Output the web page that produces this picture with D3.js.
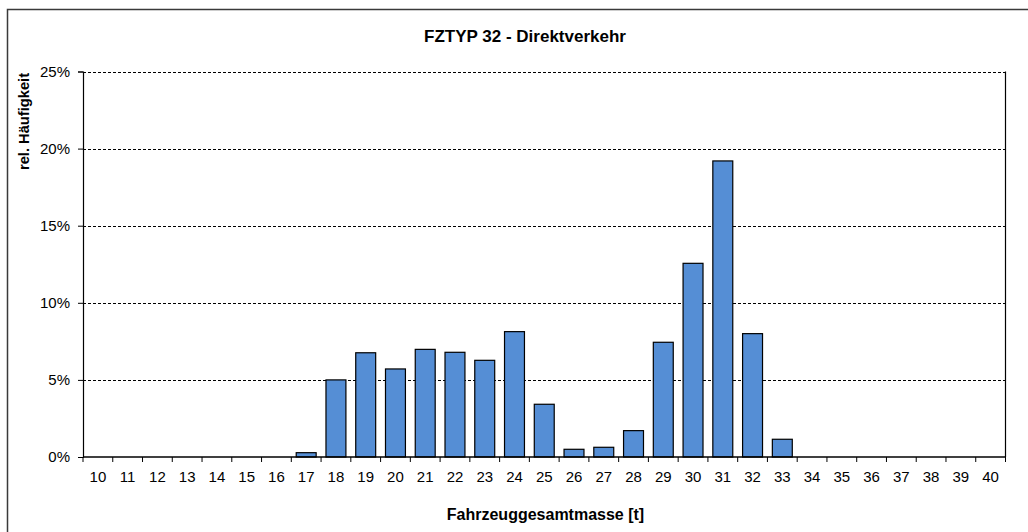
<!DOCTYPE html>
<html>
<head>
<meta charset="utf-8">
<script src="https://cdn.jsdelivr.net/npm/d3@7"></script>
<style>
  html, body { margin: 0; padding: 0; background: #fff; }
  svg { display: block; font-family: "Liberation Sans", Arial, sans-serif; }
</style>
</head>
<body>
<svg id="chart" width="1028" height="532"></svg>
<script>
// Vehicle gross mass classes [t]
const categories = [10,11,12,13,14,15,16,17,18,19,20,21,22,23,24,25,26,27,28,29,30,31,32,33,34,35,36,37,38,39,40];
// Relative frequency per class [%]
const frequency = [0,0,0,0,0,0,0,0.28,5.0,6.76,5.71,6.98,6.79,6.27,8.13,3.42,0.5,0.63,1.71,7.44,12.56,19.2,8.0,1.15,0,0,0,0,0,0,0];
const yTicks = [0,5,10,15,20,25];

const title = "FZTYP 32 - Direktverkehr";
const xTitle = "Fahrzeuggesamtmasse [t]";
const yTitle = "rel. Häufigkeit";

const svg = d3.select("#chart");
const plot = { left: 83, right: 1005.5, top: 71.5, bottom: 457 };
const font = "Liberation Sans, Arial, sans-serif";

// outer chart frame
svg.append("rect")
  .attr("x", 7.5).attr("y", 9.5)
  .attr("width", 1040).attr("height", 540)
  .attr("fill", "#fff").attr("stroke", "#3a3a3a").attr("stroke-width", 1.5);

const x = d3.scaleBand()
  .domain(categories)
  .range([plot.left, plot.right])
  .paddingInner(0.33).paddingOuter(0.165);

const xEdges = d3.scaleLinear()
  .domain([0, categories.length])
  .range([plot.left, plot.right]);

const y = d3.scaleLinear().domain([0, 25]).range([plot.bottom, plot.top]);

// dashed gridlines
svg.append("g")
  .selectAll("line")
  .data(yTicks.filter(t => t > 0))
  .join("line")
  .attr("x1", plot.left).attr("x2", plot.right)
  .attr("y1", d => Math.round(y(d)) + 0.5).attr("y2", d => Math.round(y(d)) + 0.5)
  .attr("stroke", "#000").attr("stroke-width", 1)
  .attr("stroke-dasharray", "3,2");

// right border of plot area
svg.append("line")
  .attr("x1", plot.right).attr("x2", plot.right)
  .attr("y1", plot.top).attr("y2", plot.bottom)
  .attr("stroke", "#000").attr("stroke-width", 1.2);

// bars
svg.append("g")
  .selectAll("rect")
  .data(categories.map((c, i) => ({ c, v: frequency[i] })).filter(d => d.v > 0))
  .join("rect")
  .attr("x", d => x(d.c))
  .attr("y", d => y(d.v))
  .attr("width", x.bandwidth())
  .attr("height", d => y(0) - y(d.v))
  .attr("fill", "#558ed5")
  .attr("stroke", "#000")
  .attr("stroke-width", 1.2);

// y axis
const yAxis = d3.axisLeft(y)
  .tickValues(yTicks)
  .tickFormat(d => d + "%")
  .tickSize(5)
  .tickPadding(8);
const gy = svg.append("g")
  .attr("transform", `translate(${plot.left},0)`)
  .call(yAxis);
gy.select(".domain").attr("stroke", "#000").attr("stroke-width", 1.2);
gy.selectAll(".tick line").attr("stroke", "#000");
gy.selectAll(".tick text")
  .attr("font-size", 15).attr("fill", "#000")
  .attr("font-family", font);

// x axis: labels centred on bands, ticks on band edges
const xAxis = d3.axisBottom(x).tickSize(0).tickPadding(14);
const gx = svg.append("g")
  .attr("transform", `translate(0,${plot.bottom})`)
  .call(xAxis);
gx.select(".domain").remove();
gx.selectAll(".tick text")
  .attr("font-size", 15).attr("fill", "#000")
  .attr("font-family", font);

svg.append("line")
  .attr("x1", plot.left).attr("x2", plot.right)
  .attr("y1", plot.bottom).attr("y2", plot.bottom)
  .attr("stroke", "#000").attr("stroke-width", 1.5);

svg.append("g")
  .selectAll("line")
  .data(d3.range(categories.length + 1))
  .join("line")
  .attr("x1", d => xEdges(d)).attr("x2", d => xEdges(d))
  .attr("y1", plot.bottom).attr("y2", plot.bottom + 5)
  .attr("stroke", "#000").attr("stroke-width", 1);

// titles
svg.append("text")
  .attr("x", 525).attr("y", 42)
  .attr("text-anchor", "middle")
  .attr("font-size", 17).attr("font-weight", "bold")
  .text(title);

svg.append("text")
  .attr("x", 545.5).attr("y", 520)
  .attr("text-anchor", "middle")
  .attr("font-size", 16).attr("font-weight", "bold")
  .text(xTitle);

svg.append("text")
  .attr("transform", "translate(29,121.5) rotate(-90)")
  .attr("text-anchor", "middle")
  .attr("font-size", 14.7).attr("font-weight", "bold")
  .text(yTitle);
</script>
</body>
</html>
